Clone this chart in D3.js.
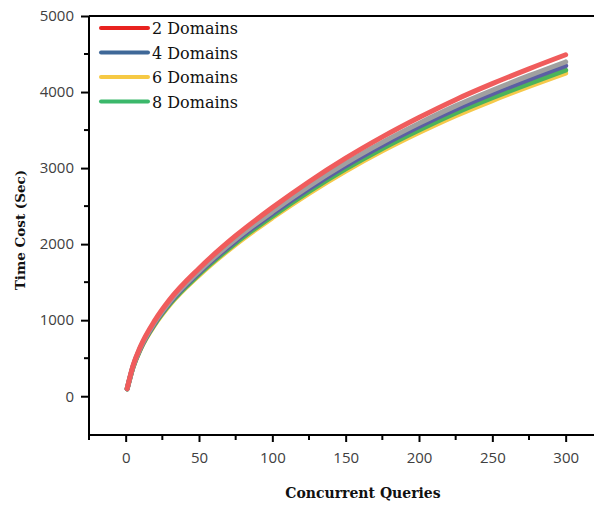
<!DOCTYPE html>
<html>
<head>
<meta charset="utf-8">
<script src="https://cdn.jsdelivr.net/npm/d3@7"></script>
<style>
  body { margin: 0; background: #fff; }
  svg { display: block; }
</style>
</head>
<body>
<div id="chart"></div>
<script>
// data
var queries = [1, 5, 10, 20, 30, 50, 75, 100, 125, 150, 175, 200, 225, 250, 275, 300];
var dom2 = [100, 400, 650, 1000, 1270, 1680, 2110, 2480, 2820, 3130, 3410, 3665, 3900, 4110, 4305, 4490];
var extra = [98, 392, 636, 979, 1243, 1645, 2066, 2428, 2761, 3064, 3338, 3588, 3818, 4024, 4215, 4396];
var dom4 = [97, 387, 629, 968, 1229, 1626, 2042, 2401, 2730, 3030, 3301, 3548, 3775, 3978, 4167, 4346];
var dom8 = [95, 382, 621, 955, 1213, 1604, 2015, 2368, 2693, 2989, 3257, 3500, 3725, 3925, 4111, 4288];
var dom6 = [95, 378, 615, 946, 1201, 1589, 1996, 2346, 2668, 2961, 3226, 3467, 3689, 3888, 4073, 4248];

var xTicks = [0, 50, 100, 150, 200, 250, 300];
var yTicks = [0, 1000, 2000, 3000, 4000, 5000];

// plotted lines, bottom first so red sits on top
var series = [
  { name: "6 Domains", values: dom6, color: "#f6c94a" },
  { name: "8 Domains", values: dom8, color: "#4cb45a" },
  { name: "4 Domains", values: dom4, color: "#5b5fa3" },
  { name: "", values: extra, color: "#a0a0a0" },
  { name: "2 Domains", values: dom2, color: "#f05c5c" }
];
var legendItems = [
  { name: "2 Domains", color: "#e8221f" },
  { name: "4 Domains", color: "#3f6898" },
  { name: "6 Domains", color: "#f6c944" },
  { name: "8 Domains", color: "#3bb86b" }
];

var w = 594, h = 507;
var svg = d3.select("#chart").append("svg").attr("width", w).attr("height", h);

var x = d3.scaleLinear().domain([-25, 335]).range([89, 617]);
var y = d3.scaleLinear().domain([-510, 5000]).range([435, 16]);

var line = d3.line()
  .x(function(d) { return x(d[0]); })
  .y(function(d) { return y(d[1]); })
  .curve(d3.curveMonotoneX);

series.forEach(function(s) {
  var pts = queries.map(function(q, i) { return [q, s.values[i]]; });
  svg.append("path")
    .attr("d", line(pts))
    .attr("fill", "none")
    .attr("stroke", s.color)
    .attr("stroke-width", 5)
    .attr("stroke-linecap", "round")
    .attr("stroke-linejoin", "round");
});

// axes
var tickFont = "'Open Sans', sans-serif";
var xAxis = d3.axisBottom(x).tickValues(xTicks).tickSize(7).tickPadding(10).tickFormat(d3.format("d"));
var yAxis = d3.axisLeft(y).tickValues(yTicks).tickSize(8).tickPadding(7).tickFormat(d3.format("d"));

var gx = svg.append("g").attr("transform", "translate(0,435)").call(xAxis);
var gy = svg.append("g").attr("transform", "translate(89,0)").call(yAxis);

// minor ticks
var xMinor = d3.range(-25, 335, 50);
var yMinor = d3.range(500, 5000, 1000);
svg.append("g").selectAll("line").data(xMinor).enter().append("line")
  .attr("x1", function(d) { return x(d); }).attr("x2", function(d) { return x(d); })
  .attr("y1", 435).attr("y2", 440)
  .attr("stroke", "#000").attr("stroke-width", 2);
svg.append("g").selectAll("line").data(yMinor).enter().append("line")
  .attr("y1", function(d) { return y(d); }).attr("y2", function(d) { return y(d); })
  .attr("x1", 89).attr("x2", 84)
  .attr("stroke", "#000").attr("stroke-width", 2);

[gx, gy].forEach(function(g) {
  g.select(".domain").attr("stroke", "#000").attr("stroke-width", 2);
  g.selectAll(".tick line").attr("stroke", "#000").attr("stroke-width", 2);
  g.selectAll(".tick text")
    .attr("font-family", tickFont)
    .attr("font-size", 15)
    .attr("fill", "#404040");
});
gx.select(".domain").attr("d", "M89,0H594");
gy.select(".domain").attr("d", "M0,16V435");

// top frame line
svg.append("line")
  .attr("x1", 89).attr("x2", 594).attr("y1", 16).attr("y2", 16)
  .attr("stroke", "#000").attr("stroke-width", 2);

// axis titles
svg.append("text")
  .attr("x", 363).attr("y", 498)
  .attr("text-anchor", "middle")
  .attr("font-family", "'DejaVu Serif', serif")
  .attr("font-weight", "bold")
  .attr("font-size", 14)
  .attr("fill", "#111")
  .text("Concurrent Queries");

svg.append("text")
  .attr("transform", "translate(25,230) rotate(-90)")
  .attr("text-anchor", "middle")
  .attr("font-family", "'DejaVu Serif', serif")
  .attr("font-weight", "bold")
  .attr("font-size", 13.5)
  .attr("fill", "#111")
  .text("Time Cost (Sec)");

// legend
var legend = svg.append("g").attr("transform", "translate(101,28)");
legendItems.forEach(function(item, i) {
  var row = legend.append("g").attr("transform", "translate(0," + (i * 24.5) + ")");
  row.append("line")
    .attr("x1", 0).attr("x2", 47)
    .attr("stroke", item.color).attr("stroke-width", 4)
    .attr("stroke-linecap", "round");
  row.append("text")
    .attr("x", 51).attr("y", 6)
    .attr("font-family", "'DejaVu Serif', serif")
    .attr("font-size", 16)
    .attr("fill", "#111")
    .text(item.name);
});
</script>
</body>
</html>
